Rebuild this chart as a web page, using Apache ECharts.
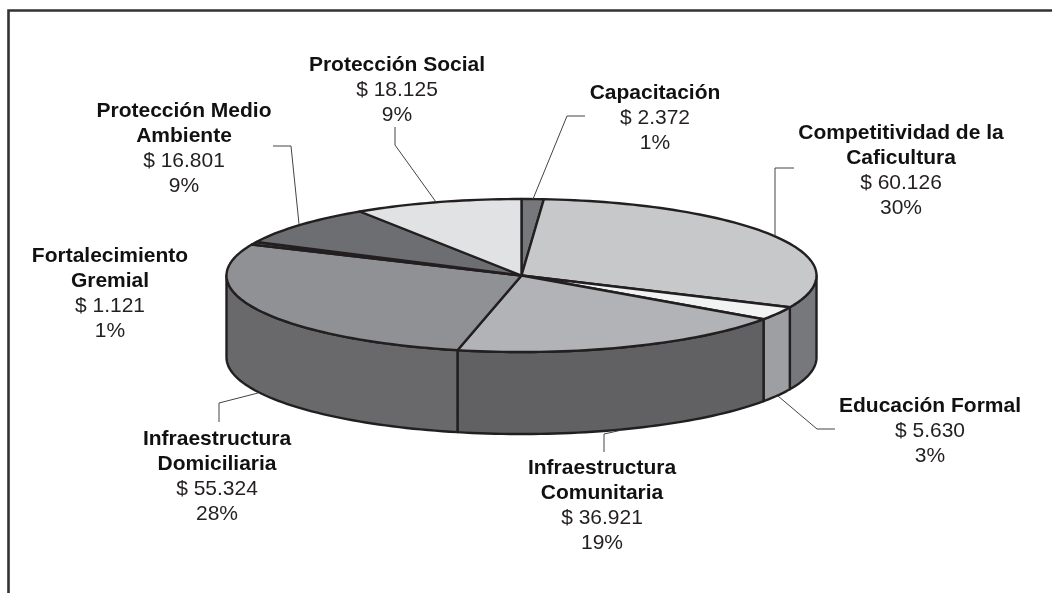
<!DOCTYPE html>
<html>
<head>
<meta charset="utf-8">
<style>html,body{margin:0;padding:0;background:#fff}#c{width:1052px;height:593px}</style>
<script src="https://cdn.jsdelivr.net/npm/echarts@6/dist/echarts.min.js"></script>
</head>
<body>
<div id="c"></div>
<script>
const categories = ['Capacitación','Competitividad de la Caficultura','Educación Formal','Infraestructura Comunitaria','Infraestructura Domiciliaria','Fortalecimiento Gremial','Protección Medio Ambiente','Protección Social'];
const titleLines = [['Capacitación'],['Competitividad de la','Caficultura'],['Educación Formal'],['Infraestructura','Comunitaria'],['Infraestructura','Domiciliaria'],['Fortalecimiento','Gremial'],['Protección Medio','Ambiente'],['Protección Social']];
const values = [2372,60126,5630,36921,55324,1121,16801,18125];
const valueLabels = ['$ 2.372','$ 60.126','$ 5.630','$ 36.921','$ 55.324','$ 1.121','$ 16.801','$ 18.125'];
const percentLabels = ['1%','30%','3%','19%','28%','1%','9%','9%'];

// styles and layout, kept apart from the data
const topColors = ['#77787b','#c7c8ca','#f1f2f2','#b1b3b6','#909195','#6d6e71','#6d6e71','#e1e2e4'];
const sideColors = ['#5f6062','#77787b','#9d9fa2','#616163','#69696c','#5f6062','#5f6062','#77787b'];
const pie = {cx:521.5, cy:275.5, rx:295, ry:76.5, depth:82};
const labelCenters = [[655,92],[901,132],[930,405],[602,467],[217,438],[110,255],[184,110],[397,64]];
const leaders = [
  [[585,116],[567,116],[533,199]],
  [[794,168],[775,168],[775,236]],
  [[835,429],[817,429],[778,396]],
  [[604,452],[604,434],[622,430]],
  [[219,422],[219,403],[258,393]],
  null,
  [[273,146],[291,146],[299,224]],
  [[395,127],[395,145],[436,202]]
];
const FONT = '"Liberation Sans", Arial, Helvetica, sans-serif';
const FS = 21, LH = 25, TEXT_DY = 1.5;
const STROKE = '#231f20';

const total = values.reduce((a,b)=>a+b,0);
const spans = [];
let acc = 0;
values.forEach(v => { spans.push([acc/total*360, (acc+v)/total*360]); acc += v; });

function pt(deg, dy){
  const t = deg*Math.PI/180;
  return [pie.cx + pie.rx*Math.sin(t), pie.cy - pie.ry*Math.cos(t) + (dy||0)];
}
function arc(a, b, dy){
  const n = Math.max(2, Math.ceil((b-a)/1.5)), out = [];
  for(let i=0;i<=n;i++) out.push(pt(a+(b-a)*i/n, dy));
  return out;
}

function renderSide(params){
  const i = params.dataIndex, a = Math.max(spans[i][0],90), b = Math.min(spans[i][1],270);
  if(b <= a) return {type:'group', children:[]};
  const pts = arc(a,b,0).concat(arc(a,b,pie.depth).reverse());
  return {type:'polygon', shape:{points:pts},
    style:{fill:sideColors[i], stroke:STROKE, lineWidth:2.4, lineJoin:'round'}};
}
function renderTop(params){
  const i = params.dataIndex;
  const pts = [[pie.cx,pie.cy]].concat(arc(spans[i][0],spans[i][1],0));
  return {type:'polygon', shape:{points:pts},
    style:{fill:topColors[i], stroke:STROKE, lineWidth:2.4, lineJoin:'round'}};
}
function renderLabel(params){
  const i = params.dataIndex, kids = [];
  const x = labelCenters[i][0];
  let y = labelCenters[i][1] + TEXT_DY;
  titleLines[i].forEach(t => {
    kids.push({type:'text', style:{text:t, x, y, align:'center', verticalAlign:'middle', fill:'#111', font:'bold '+FS+'px '+FONT}});
    y += LH;
  });
  [valueLabels[i], percentLabels[i]].forEach(t => {
    kids.push({type:'text', style:{text:t, x, y, align:'center', verticalAlign:'middle', fill:'#231f20', font:FS+'px '+FONT}});
    y += LH;
  });
  if(leaders[i]) kids.push({type:'polyline', shape:{points:leaders[i]}, style:{fill:'none', stroke:'#444', lineWidth:1}});
  return {type:'group', children:kids};
}

const rows = categories.map((c,i)=>({name:c, value:values[i]}));
const chart = echarts.init(document.getElementById('c'), null, {renderer:'canvas'});
chart.setOption({
  animation:false,
  backgroundColor:'#fff',
  graphic:[{type:'polyline', shape:{points:[[8.5,593],[8.5,10.5],[1052,10.5]]}, style:{fill:'none', stroke:'#333', lineWidth:2.6}}],
  series:[
    {type:'custom', coordinateSystem:'none', renderItem:renderSide, data:rows, z:2, silent:true},
    {type:'custom', coordinateSystem:'none', renderItem:renderTop, data:rows, z:3, silent:true},
    {type:'custom', coordinateSystem:'none', renderItem:renderLabel, data:rows, z:4, silent:true}
  ]
});
</script>
</body>
</html>
